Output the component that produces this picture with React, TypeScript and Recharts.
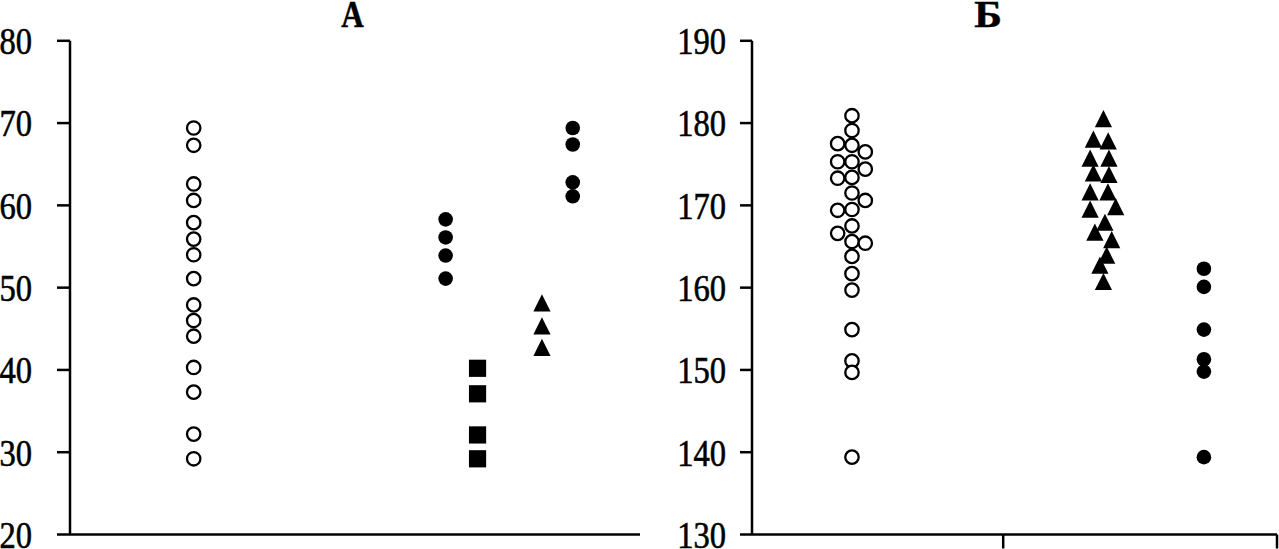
import React from 'react'
import { ScatterChart, Scatter, XAxis, YAxis } from 'recharts'

// panel А: y values read per group, x is the group position (0..100 across the plot)
const aOpenY = [69.4, 67.3, 62.6, 60.6, 57.9, 55.9, 54.0, 51.1, 47.9, 46.0, 44.1, 40.3, 37.3, 32.2, 29.2]
const aDotsY = [58.3, 56.1, 53.9, 51.1]
const aSquaresY = [40.2, 37.1, 32.1, 29.2]
const aTrianglesY = [47.8, 45.0, 42.4]
const aDots2Y = [69.4, 67.4, 62.8, 61.1]
const aGroupX = [21.7, 65.9, 71.5, 82.8, 88.2]
const aTicks = [20, 30, 40, 50, 60, 70, 80]

// panel Б: open circles drawn in three columns, triangles jittered
const bOpenY = [180.9, 179.1, 177.3, 175.3, 173.4, 171.5, 169.5, 167.5, 165.6, 163.8, 161.7, 159.7, 154.9, 151.1, 149.7, 139.4]
const bOpenLeftY = [177.5, 175.3, 173.3, 169.4, 166.6]
const bOpenRightY = [176.5, 174.4, 170.6, 165.4]
const bOpenX = [0.398, 0.341, 0.451]
const bTrianglesY = [180.2, 177.7, 177.5, 175.4, 175.4, 173.6, 173.4, 171.3, 171.3, 169.2, 169.5, 167.6, 166.4, 165.5, 163.6, 162.4, 160.4]
const bTrianglesX = [1.399, 1.359, 1.418, 1.346, 1.421, 1.359, 1.421, 1.346, 1.417, 1.346, 1.448, 1.405, 1.365, 1.432, 1.412, 1.385, 1.399]
const bDotsY = [162.3, 160.1, 154.9, 151.3, 149.8, 139.4]
const bDotsX = 1.799
const bTicks = [130, 140, 150, 160, 170, 180, 190]
const bCategoryTicks = [1, 2.09]

const toPoints = (ys: number[], x: number) => ys.map((y) => ({ x, y }))

const serif = "'Liberation Serif', 'Times New Roman', serif"
const axisStyle = { stroke: '#000', strokeWidth: 2.5 }

const SerifTick = (props: any) => {
  const { x, y, payload } = props
  return (
    <g transform={`translate(${x},${y})`}>
      <text
        x={0}
        y={0}
        dy="0.36em"
        textAnchor="end"
        transform="scale(0.88,1)"
        fontFamily={serif}
        fontSize={37}
        fill="#000"
        stroke="#000"
        strokeWidth={0.6}
      >
        {payload.value}
      </text>
    </g>
  )
}

// category ticks on the Б axis have marks but no labels
const EmptyTick = () => <g />

const OpenCircle = (props: any) => (
  <circle cx={props.cx} cy={props.cy} r={6.7} fill="#fff" stroke="#000" strokeWidth={2.3} />
)

const Dot = (props: any) => <circle cx={props.cx} cy={props.cy} r={7.3} fill="#000" />

const Square = (props: any) => (
  <rect x={props.cx - 8.6} y={props.cy - 8.6} width={17.2} height={17.2} fill="#000" />
)

const Triangle = (props: any) => {
  const { cx, cy } = props
  const w = 17.2
  const h = 17.2
  return (
    <polygon
      points={`${cx},${cy - (2 * h) / 3} ${cx - w / 2},${cy + h / 3} ${cx + w / 2},${cy + h / 3}`}
      fill="#000"
    />
  )
}

export default function App() {
  return (
    <div
      style={{
        position: 'fixed',
        left: 0,
        top: 0,
        width: 1279,
        height: 549,
        background: '#fff',
        overflow: 'hidden',
      }}
    >
      <div style={{ position: 'absolute', left: 0, top: 0 }}>
        <ScatterChart width={640} height={549} margin={{ top: 40.8, right: 0, bottom: 0, left: 0 }}>
          <XAxis
            type="number"
            dataKey="x"
            domain={[0, 100]}
            height={14.5}
            tick={false}
            tickLine={false}
            axisLine={axisStyle}
          />
          <YAxis
            type="number"
            dataKey="y"
            domain={[20, 80]}
            ticks={aTicks}
            width={70}
            tickSize={13}
            tickMargin={25}
            tick={<SerifTick />}
            tickLine={axisStyle}
            axisLine={axisStyle}
          />
          <Scatter data={toPoints(aOpenY, aGroupX[0])} shape={<OpenCircle />} isAnimationActive={false} />
          <Scatter data={toPoints(aDotsY, aGroupX[1])} shape={<Dot />} isAnimationActive={false} />
          <Scatter data={toPoints(aSquaresY, aGroupX[2])} shape={<Square />} isAnimationActive={false} />
          <Scatter data={toPoints(aTrianglesY, aGroupX[3])} shape={<Triangle />} isAnimationActive={false} />
          <Scatter data={toPoints(aDots2Y, aGroupX[4])} shape={<Dot />} isAnimationActive={false} />
        </ScatterChart>
      </div>

      <div style={{ position: 'absolute', left: 640, top: 0 }}>
        <ScatterChart width={639} height={549} margin={{ top: 40.8, right: 2, bottom: 0, left: 0 }}>
          <XAxis
            type="number"
            dataKey="x"
            domain={[0, 2.09]}
            ticks={bCategoryTicks}
            height={14.5}
            tick={<EmptyTick />}
            tickSize={14}
            tickLine={axisStyle}
            axisLine={axisStyle}
          />
          <YAxis
            type="number"
            dataKey="y"
            domain={[130, 190]}
            ticks={bTicks}
            width={112}
            tickSize={12}
            tickMargin={14}
            tick={<SerifTick />}
            tickLine={axisStyle}
            axisLine={axisStyle}
          />
          <Scatter data={toPoints(bOpenY, bOpenX[0])} shape={<OpenCircle />} isAnimationActive={false} />
          <Scatter data={toPoints(bOpenLeftY, bOpenX[1])} shape={<OpenCircle />} isAnimationActive={false} />
          <Scatter data={toPoints(bOpenRightY, bOpenX[2])} shape={<OpenCircle />} isAnimationActive={false} />
          <Scatter
            data={bTrianglesY.map((y, i) => ({ x: bTrianglesX[i], y }))}
            shape={<Triangle />}
            isAnimationActive={false}
          />
          <Scatter data={toPoints(bDotsY, bDotsX)} shape={<Dot />} isAnimationActive={false} />
        </ScatterChart>
      </div>

      <svg
        width={1279}
        height={40}
        style={{ position: 'absolute', left: 0, top: 0, pointerEvents: 'none' }}
      >
        <text
          transform="translate(352.5,26.7) scale(0.82,1)"
          textAnchor="middle"
          fontFamily={serif}
          fontWeight="bold"
          fontSize={38}
          fill="#000"
          stroke="#000"
          strokeWidth={0.5}
        >
          А
        </text>
        <text
          transform="translate(988,26.7) scale(1.1,1)"
          textAnchor="middle"
          fontFamily={serif}
          fontWeight="bold"
          fontSize={38}
          fill="#000"
          stroke="#000"
          strokeWidth={0.5}
        >
          Б
        </text>
      </svg>
    </div>
  )
}
